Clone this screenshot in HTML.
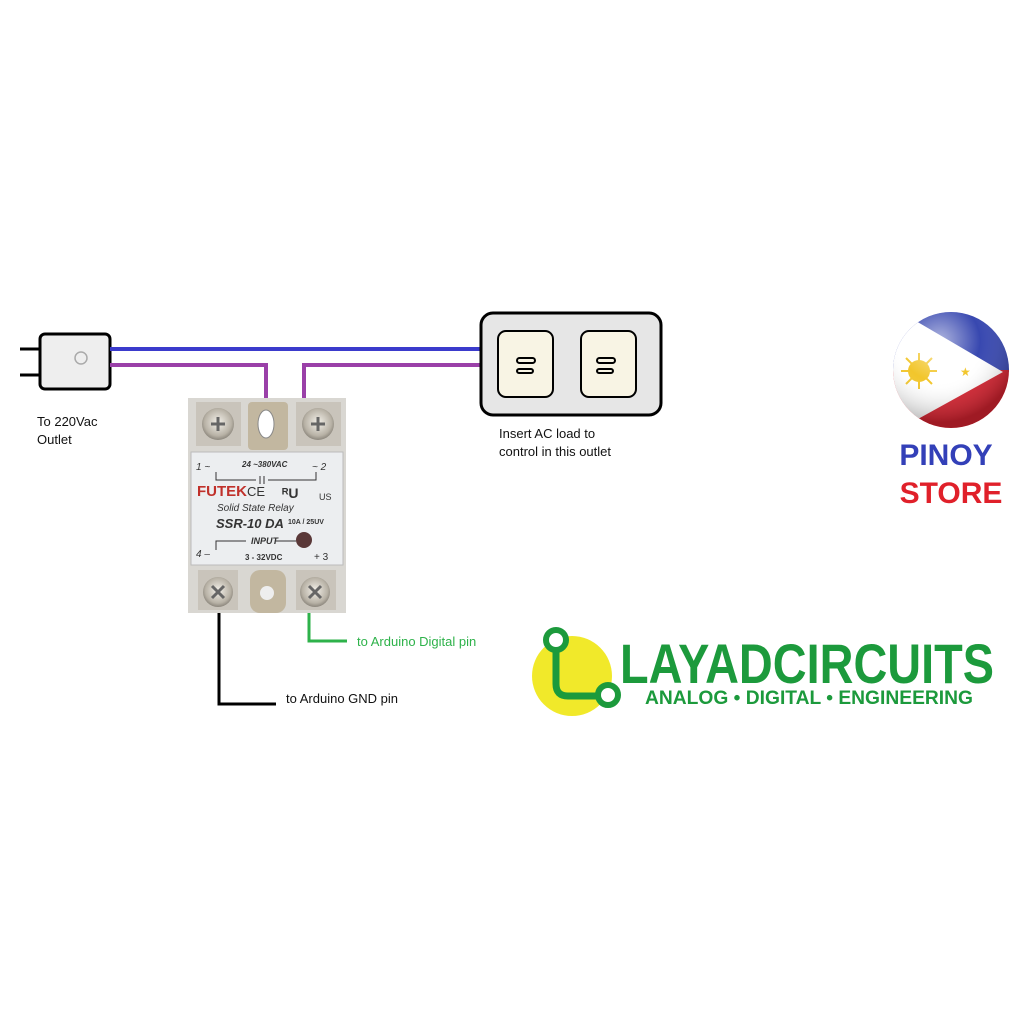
<!DOCTYPE html>
<html><head><meta charset="utf-8"><style>
html,body{margin:0;padding:0;background:#fff;width:1024px;height:1024px;overflow:hidden}
svg{display:block}
text{font-family:"Liberation Sans",sans-serif}
</style></head><body>
<svg width="1024" height="1024" viewBox="0 0 1024 1024" xmlns="http://www.w3.org/2000/svg">
<defs>
<radialGradient id="scr" cx="50%" cy="45%" r="60%"><stop offset="0" stop-color="#f4f1ea"/><stop offset="0.7" stop-color="#b8b2a6"/><stop offset="1" stop-color="#7a756c"/></radialGradient>
<radialGradient id="gloss" cx="40%" cy="25%" r="70%"><stop offset="0" stop-color="#fff" stop-opacity="0.6"/><stop offset="0.5" stop-color="#fff" stop-opacity="0"/><stop offset="1" stop-color="#000" stop-opacity="0.25"/></radialGradient>
<clipPath id="fc"><circle cx="951" cy="370" r="58"/></clipPath>
</defs>
<!-- plug -->
<line x1="20" y1="349" x2="42" y2="349" stroke="#000" stroke-width="3"/>
<line x1="20" y1="375" x2="42" y2="375" stroke="#000" stroke-width="3"/>
<rect x="40" y="334" width="70" height="55" rx="5" fill="#eee" stroke="#000" stroke-width="3"/>
<circle cx="81" cy="358" r="6" fill="none" stroke="#aaa" stroke-width="1.5"/>
<!-- wires -->
<line x1="110" y1="349" x2="482" y2="349" stroke="#3b3bcc" stroke-width="4"/>
<polyline points="110,365 266,365 266,400" fill="none" stroke="#9a40a8" stroke-width="4"/>
<polyline points="482,365 304,365 304,400" fill="none" stroke="#9a40a8" stroke-width="4"/>
<!-- outlet -->
<rect x="481" y="313" width="180" height="102" rx="12" fill="#e6e6e6" stroke="#000" stroke-width="3"/>
<rect x="498" y="331" width="55" height="66" rx="8" fill="#f8f4e4" stroke="#000" stroke-width="2"/>
<rect x="581" y="331" width="55" height="66" rx="8" fill="#f8f4e4" stroke="#000" stroke-width="2"/>
<rect x="517" y="358" width="18" height="5" rx="2.5" fill="none" stroke="#000" stroke-width="2"/>
<rect x="517" y="369" width="16" height="4" rx="2" fill="none" stroke="#000" stroke-width="2"/>
<rect x="597" y="358" width="18" height="5" rx="2.5" fill="none" stroke="#000" stroke-width="2"/>
<rect x="597" y="369" width="16" height="4" rx="2" fill="none" stroke="#000" stroke-width="2"/>
<text x="37" y="426" font-size="13" fill="#111">To 220Vac</text>
<text x="37" y="444" font-size="13" fill="#111">Outlet</text>
<text x="499" y="438" font-size="13" fill="#111">Insert AC load to</text>
<text x="499" y="456" font-size="13" fill="#111">control in this outlet</text>
<!-- relay -->
<rect x="188" y="398" width="158" height="215" fill="#d9d7d2"/>
<rect x="196" y="402" width="45" height="44" fill="#c9c4bb"/>
<rect x="296" y="402" width="45" height="44" fill="#c9c4bb"/>
<rect x="248" y="402" width="40" height="48" rx="4" fill="#c2b7a0"/>
<ellipse cx="266" cy="424" rx="8" ry="14" fill="#fff" stroke="#888"/>
<circle cx="218" cy="424" r="16" fill="url(#scr)"/>
<circle cx="318" cy="424" r="16" fill="url(#scr)"/>
<path d="M211 424h14M218 417v14M311 424h14M318 417v14" stroke="#666" stroke-width="3"/>
<rect x="191" y="452" width="152" height="113" fill="#eceef0" stroke="#bbb"/>
<text x="196" y="470" font-size="10" font-style="italic" fill="#333">1 ~</text>
<text x="242" y="467" font-size="8" font-style="italic" font-weight="bold" fill="#333">24 ~380VAC</text>
<text x="312" y="470" font-size="10" font-style="italic" fill="#333">~ 2</text>
<path d="M216 472v8h40M260 476v8M264 476v8M268 480h48v-8" fill="none" stroke="#333"/>
<text x="197" y="496" font-size="15" font-weight="bold" fill="#c0302a" transform="scale(1,1)">FUTEK</text>
<text x="247" y="496" font-size="13" fill="#333">CE</text>
<text x="282" y="498" font-size="14" font-weight="bold" fill="#333">ᴿU</text>
<text x="319" y="500" font-size="9" fill="#333">US</text>
<text x="217" y="511" font-size="10" font-style="italic" fill="#333">Solid State Relay</text>
<text x="216" y="528" font-size="13" font-weight="bold" font-style="italic" fill="#333">SSR-10 DA</text>
<text x="288" y="524" font-size="7" font-weight="bold" fill="#333">10A / 25UV</text>
<path d="M216 550v-9h30M276 541h20" fill="none" stroke="#333"/>
<text x="251" y="544" font-size="9" font-style="italic" font-weight="bold" fill="#333">INPUT</text>
<circle cx="304" cy="540" r="8" fill="#5a3838"/>
<text x="196" y="557" font-size="10" font-style="italic" fill="#333">4  –</text>
<text x="245" y="560" font-size="8" font-weight="bold" fill="#333">3 - 32VDC</text>
<text x="314" y="560" font-size="10" fill="#333">+ 3</text>
<rect x="198" y="570" width="40" height="40" fill="#c9c4bb"/>
<rect x="296" y="570" width="40" height="40" fill="#c9c4bb"/>
<rect x="250" y="570" width="36" height="43" rx="10" fill="#c2b7a0"/>
<circle cx="267" cy="593" r="7" fill="#eee"/>
<circle cx="218" cy="592" r="15" fill="url(#scr)"/>
<circle cx="315" cy="592" r="15" fill="url(#scr)"/>
<path d="M212 586l12 12M224 586l-12 12M309 586l12 12M321 586l-12 12" stroke="#666" stroke-width="3"/>
<!-- control wires -->
<polyline points="219,613 219,704 276,704" fill="none" stroke="#000" stroke-width="3"/>
<polyline points="309,613 309,641 347,641" fill="none" stroke="#2eb24a" stroke-width="3"/>
<text x="357" y="646" font-size="13" fill="#2eb24a">to Arduino Digital pin</text>
<text x="286" y="703" font-size="13" fill="#111">to Arduino GND pin</text>
<!-- flag -->
<g clip-path="url(#fc)">
<rect x="890" y="310" width="125" height="62" fill="#3848b0"/>
<rect x="890" y="370" width="125" height="62" fill="#d42330"/>
<polygon points="880,300 1003,372 880,440" fill="#fff"/>
<circle cx="919" cy="371" r="11" fill="#f2c62c"/>
<g stroke="#f2c62c" stroke-width="2"><path d="M901 371h36M919 353v36M906 358l26 26M932 358l-26 26"/></g>
<text x="960" y="376" font-size="12" fill="#f2c62c">★</text>
<circle cx="951" cy="370" r="58" fill="url(#gloss)"/>
</g>
<text x="946" y="465" font-size="30" font-weight="bold" fill="#3340b8" text-anchor="middle">PINOY</text>
<text x="951" y="503" font-size="30" font-weight="bold" fill="#e0202a" text-anchor="middle">STORE</text>
<!-- layad logo -->
<circle cx="572" cy="676" r="40" fill="#f1e92a"/>
<circle cx="556" cy="640" r="10" fill="#fff" stroke="#1c9a3c" stroke-width="6"/>
<path d="M556 650v34q0 12 12 12h28" fill="none" stroke="#1c9a3c" stroke-width="7"/>
<circle cx="608" cy="695" r="10" fill="#fff" stroke="#1c9a3c" stroke-width="6"/>
<text x="620" y="683" font-size="56" font-weight="bold" fill="#1c9a3c" font-family="Liberation Sans Narrow, Liberation Sans, sans-serif" textLength="374" lengthAdjust="spacingAndGlyphs">LAYADCIRCUITS</text>
<text x="645" y="704" font-size="19" font-weight="bold" fill="#1c9a3c" textLength="328" lengthAdjust="spacingAndGlyphs">ANALOG • DIGITAL • ENGINEERING</text>
</svg>
</body></html>
